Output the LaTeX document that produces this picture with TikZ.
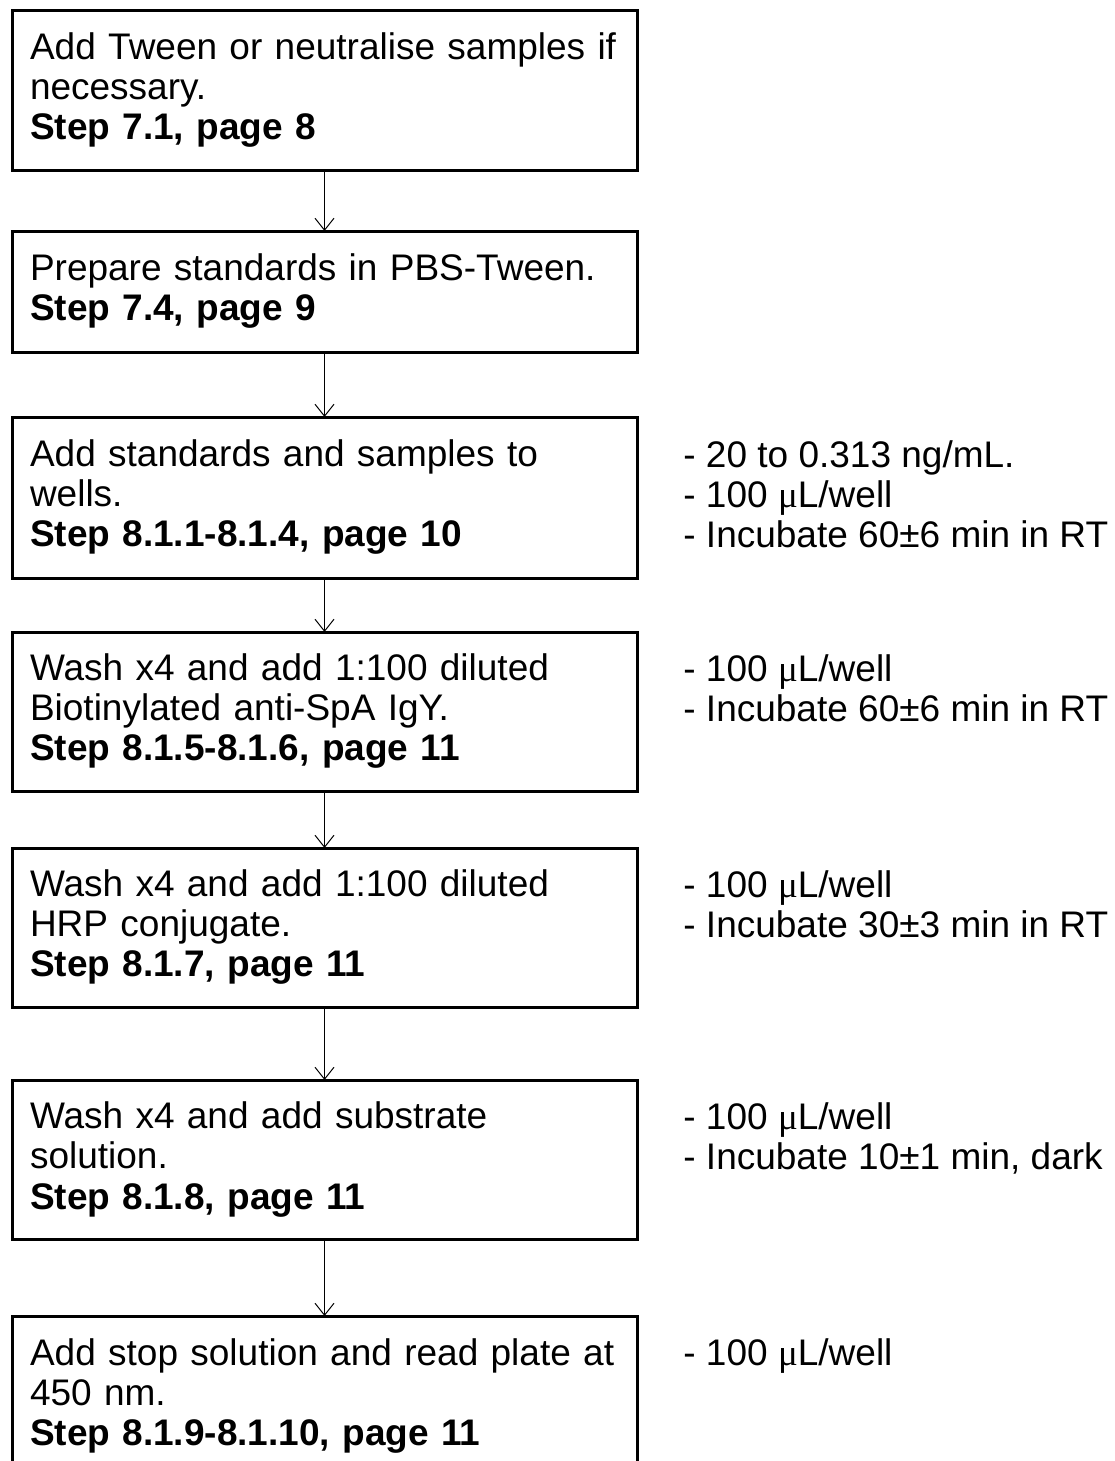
\documentclass[tikz,border=0pt]{standalone}
\usepackage{fontspec}
\setmainfont{Liberation Sans}
\newfontfamily\greekfont{Liberation Serif}
\usetikzlibrary{arrows.meta}
\newcommand{\muL}{{\greekfont μ}L}

\begin{document}
\begin{tikzpicture}[x=0.5pt, y=-0.5pt,
	stepbox/.style={draw, line width=1.5pt, anchor=north west, outer sep=0pt, inner xsep=9pt, inner ysep=0pt, text width=294.5pt, align=left, font=\fontsize{18.5pt}{20pt}\selectfont},
	note/.style={anchor=north west, inner sep=0pt, align=left, font=\fontsize{18.5pt}{20pt}\selectfont},
	flow/.style={-{Straight Barb[length=6pt,width=9.5pt]}, line width=0.5pt}]
			\useasboundingbox (0,0) rectangle (1114,1461);

			\node[stepbox, minimum height=79.5pt] (s1) at (12,11) {Add Tween or neutralise samples if\\necessary.\\\textbf{Step 7.1, page 8}};
			\node[stepbox, minimum height=60.5pt] (s2) at (12,231) {Prepare standards in PBS-Tween.\\\textbf{Step 7.4, page 9}};
			\node[stepbox, minimum height=80.5pt] (s3) at (12,417) {Add standards and samples to\\wells.\\\textbf{Step 8.1.1-8.1.4, page 10}};
			\node[stepbox, minimum height=79.5pt] (s4) at (12,632) {Wash x4 and add 1:100 diluted\\Biotinylated anti-SpA IgY.\\\textbf{Step 8.1.5-8.1.6, page 11}};
			\node[stepbox, minimum height=79.5pt] (s5) at (12,848) {Wash x4 and add 1:100 diluted\\HRP conjugate.\\\textbf{Step 8.1.7, page 11}};
			\node[stepbox, minimum height=79.5pt] (s6) at (12,1080) {Wash x4 and add substrate\\solution.\\\textbf{Step 8.1.8, page 11}};
			\node[stepbox, minimum height=79.5pt] (s7) at (12,1316) {Add stop solution and read plate at\\450 nm.\\\textbf{Step 8.1.9-8.1.10, page 11}};

			\node[note] (n3) at (683,440) {- 20 to 0.313 ng/mL.\\- 100 \muL/well\\- Incubate 60±6 min in RT};
			\node[note] (n4) at (683,654) {- 100 \muL/well\\- Incubate 60±6 min in RT};
			\node[note] (n5) at (683,870) {- 100 \muL/well\\- Incubate 30±3 min in RT};
			\node[note] (n6) at (683,1102) {- 100 \muL/well\\- Incubate 10±1 min, dark};
			\node[note] (n7) at (683,1338) {- 100 \muL/well};

			\draw[flow] (s1) -- (s2);
			\draw[flow] (s2) -- (s3);
			\draw[flow] (s3) -- (s4);
			\draw[flow] (s4) -- (s5);
			\draw[flow] (s5) -- (s6);
			\draw[flow] (s6) -- (s7);
		\end{tikzpicture}
\end{document}
